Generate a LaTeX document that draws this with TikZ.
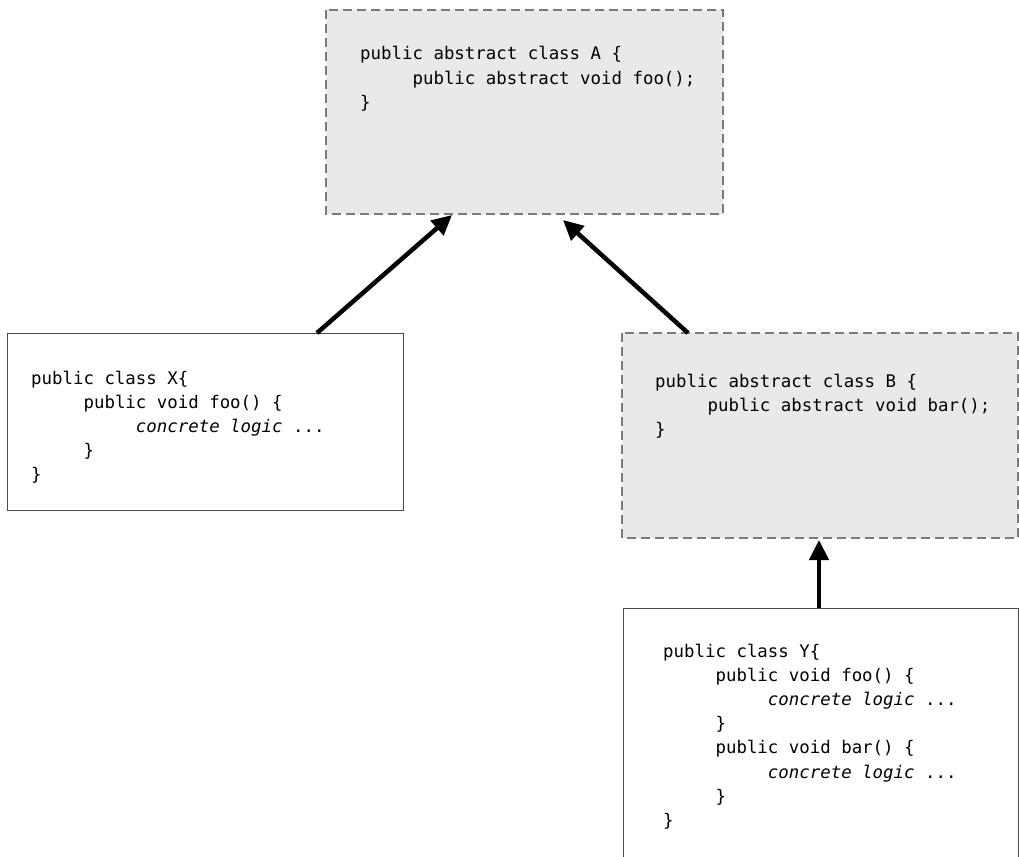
\documentclass[tikz,border=0pt]{standalone}
\usepackage{fontspec}
\setmonofont{DejaVu Sans Mono}
\usetikzlibrary{arrows.meta,calc}
\definecolor{boxfill}{HTML}{E8E9E8}
\definecolor{dashgray}{HTML}{7A7A7A}
\definecolor{solidgray}{HTML}{4A4A4A}
\newcommand{\ind}[1]{\phantom{#1}}
\begin{document}
\begin{tikzpicture}[x=1pt,y=-1pt,
  abstractbox/.style={draw=dashgray,fill=boxfill,line width=1.2pt,dash pattern=on 9pt off 5pt},
  concretebox/.style={draw=solidgray,fill=white,line width=1pt},
  code/.style={anchor=base west,align=left,inner sep=0pt,font=\ttfamily\fontsize{17.4}{24.2}\selectfont},
  inherit/.style={line width=4.5pt,-{Triangle[length=20pt,width=19pt]}}]
\useasboundingbox (0,0) rectangle (1019,856);
% boxes
\draw[abstractbox] (326,10) rectangle (723,214);
\coordinate (A) at (326,10);
\draw[concretebox] (7,333) rectangle (403,510);
\coordinate (X) at (7,333);
\draw[abstractbox] (622,333) rectangle (1018,538);
\coordinate (B) at (622,333);
\draw[concretebox] (623,608) rectangle (1018,880);
\coordinate (Y) at (623,608);
% code (anchor = baseline of the last line)
\node[code] (tA) at (360,108.4) {public abstract class A \{\\
\ind{00000}public abstract void foo();\\
\}};
\node[code] (tX) at (31,480.8) {public class X\{\\
\ind{00000}public void foo() \{\\
\ind{0000000000}\textit{concrete logic} ...\\
\ind{00000}\}\\
\}};
\node[code] (tB) at (655,435.4) {public abstract class B \{\\
\ind{00000}public abstract void bar();\\
\}};
\node[code] (tY) at (663,826.4) {public class Y\{\\
\ind{00000}public void foo() \{\\
\ind{0000000000}\textit{concrete logic} ...\\
\ind{00000}\}\\
\ind{00000}public void bar() \{\\
\ind{0000000000}\textit{concrete logic} ...\\
\ind{00000}\}\\
\}};
% connectors
\coordinate (xa1) at ($(X)+(310,0)$);
\coordinate (xa2) at ($(A)+(126,205)$);
\coordinate (ba1) at ($(B)+(66,0)$);
\coordinate (ba2) at ($(A)+(237,210)$);
\coordinate (yb1) at ($(Y)+(196,0)$);
\coordinate (yb2) at ($(B)+(197,207)$);
\draw[inherit] (xa1) -- (xa2);
\draw[inherit] (ba1) -- (ba2);
\draw[inherit] (yb1) -- (yb2);
\end{tikzpicture}
\end{document}
